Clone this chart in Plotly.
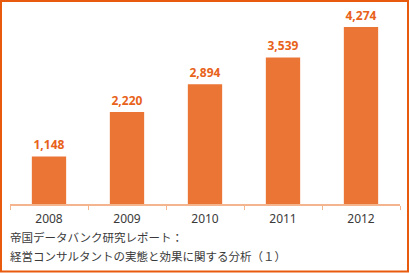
import plotly.graph_objects as go

years = ["2008", "2009", "2010", "2011", "2012"]
values = [1148, 2220, 2894, 3539, 4274]
caption_lines = ["帝国データバンク研究レポート：", "経営コンサルタントの実態と効果に関する分析（１）"]

W, H = 410, 273
L, R, T, B = 10, 400, 10, 204  # plot area in px

def px_x(x):
    return (x - L) / (R - L)

def px_y(y):
    return (B - y) / (B - T)

fig = go.Figure(go.Bar(
    x=years, y=values,
    marker=dict(color="#EB7535", line=dict(width=0)),
    texttemplate="<b>%{y:,}</b>",
    textposition="outside",
    textfont=dict(color="#E8621A", size=12, family="Noto Sans"),
    cliponaxis=False,
    width=0.44,
    hoverinfo="skip",
))

shapes = [
    dict(type="rect", xref="paper", yref="paper",
         x0=px_x(1), x1=px_x(408), y0=px_y(1), y1=px_y(271.5),
         line=dict(color="#E85A0E", width=2), fillcolor="rgba(0,0,0,0)", layer="above"),
]

annotations = []
for i, line in enumerate(caption_lines):
    annotations.append(dict(
        text=line, xref="paper", yref="paper", x=px_x(8), y=px_y(236.5 + 19.5 * i),
        xanchor="left", yanchor="middle", showarrow=False,
        font=dict(family="Noto Sans CJK JP", size=11.5, color="#3a3a3a"),
    ))

fig.update_layout(
    width=W, height=H,
    margin=dict(l=L, r=W - R, t=T, b=H - B, pad=0),
    paper_bgcolor="white", plot_bgcolor="white",
    showlegend=False,
    shapes=shapes, annotations=annotations,
    font=dict(family="Noto Sans", color="#333333"),
    xaxis=dict(
        showline=True, linecolor="#F3B48E", linewidth=1.5,
        ticks="outside", tickson="boundaries", ticklen=4, tickcolor="#F3B48E", tickwidth=1,
        tickfont=dict(size=12, color="#3a3a3a", family="Noto Sans"),
        ticklabelstandoff=3,
        showgrid=False, zeroline=False, fixedrange=True,
    ),
    yaxis=dict(
        range=[0, 4684], visible=False, showgrid=False, zeroline=False, fixedrange=True,
    ),
)

fig.write_html("out.html", config=dict(displayModeBar=False))
